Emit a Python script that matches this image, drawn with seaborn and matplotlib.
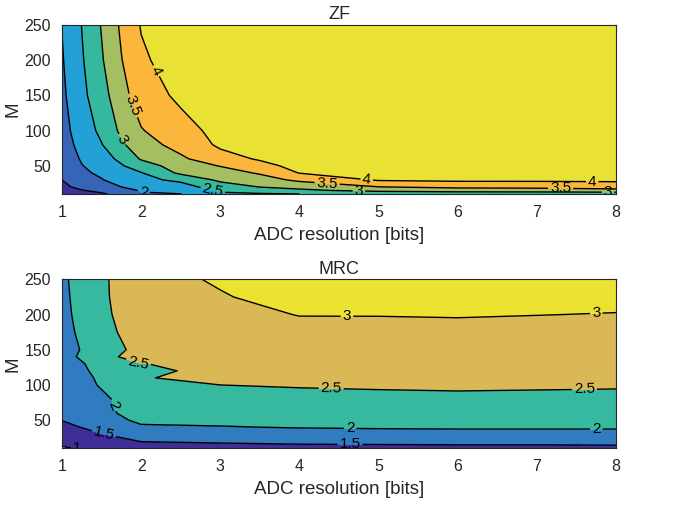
import matplotlib
matplotlib.use("Agg")
import numpy as np
import seaborn as sns
import matplotlib.pyplot as plt

# ZF: achievable rate over ADC resolution (columns) and number of antennas M (rows)
bits_zf = [1, 1.25, 1.5, 1.75, 2, 2.5, 3, 3.5, 4, 5, 6, 7, 8]
m_zf = [10, 15, 20, 30, 40, 50, 60, 80, 100, 150, 200, 250]
zf_rate = [  # one list per entry of bits_zf, values along m_zf
    [1.25, 1.35, 1.42, 1.50, 1.56, 1.62, 1.67, 1.75, 1.81, 1.90, 1.96, 2.01],
    [1.35, 1.48, 1.60, 1.77, 1.90, 1.98, 2.05, 2.17, 2.26, 2.38, 2.45, 2.51],
    [1.45, 1.60, 1.75, 1.97, 2.10, 2.22, 2.32, 2.48, 2.60, 2.80, 2.95, 3.03],
    [1.62, 1.80, 2.00, 2.22, 2.36, 2.46, 2.60, 2.92, 3.10, 3.33, 3.48, 3.58],
    [1.95, 2.04, 2.20, 2.38, 2.48, 2.75, 3.05, 3.30, 3.47, 3.75, 3.92, 4.03],
    [1.99, 2.20, 2.30, 2.60, 3.10, 3.25, 3.42, 3.67, 3.82, 4.10, 4.25, 4.35],
    [2.45, 2.55, 2.75, 3.10, 3.30, 3.52, 3.82, 4.08, 4.15, 4.30, 4.42, 4.50],
    [2.45, 2.75, 3.01, 3.30, 3.55, 3.85, 4.05, 4.20, 4.28, 4.40, 4.50, 4.55],
    [2.50, 2.90, 3.15, 3.60, 4.02, 4.15, 4.25, 4.35, 4.40, 4.50, 4.55, 4.60],
    [2.55, 3.15, 3.49, 4.05, 4.20, 4.30, 4.38, 4.45, 4.50, 4.55, 4.60, 4.62],
    [2.60, 3.25, 3.60, 4.10, 4.25, 4.33, 4.40, 4.48, 4.52, 4.57, 4.61, 4.63],
    [2.60, 3.28, 3.62, 4.10, 4.26, 4.34, 4.41, 4.49, 4.53, 4.58, 4.62, 4.64],
    [2.62, 3.38, 3.65, 4.12, 4.27, 4.35, 4.42, 4.50, 4.54, 4.59, 4.63, 4.65],
]
zf_levels = [1.5, 2, 2.5, 3, 3.5, 4]

# MRC
bits_mrc = [1, 2, 3, 4, 5, 6, 7, 8]
m_mrc = [10, 15, 20, 30, 40, 50, 60, 80, 100, 110, 120, 130, 140, 150, 175, 200, 225, 250]
mrc_rate = [
    [0.93, 1.08, 1.14, 1.25, 1.37, 1.51, 1.55, 1.62, 1.70, 1.68, 1.77, 1.80, 1.83, 1.81, 1.85, 1.88, 1.90, 1.92],
    [1.30, 1.42, 1.51, 1.72, 1.94, 2.09, 2.20, 2.23, 2.38, 2.48, 2.45, 2.49, 2.77, 2.66, 2.78, 2.86, 2.90, 2.90],
    [1.35, 1.45, 1.55, 1.78, 1.98, 2.10, 2.18, 2.33, 2.50, 2.59, 2.56, 2.60, 2.63, 2.68, 2.80, 2.90, 2.98, 3.03],
    [1.38, 1.48, 1.60, 1.83, 2.02, 2.14, 2.22, 2.38, 2.53, 2.60, 2.66, 2.70, 2.74, 2.78, 2.90, 3.01, 3.10, 3.18],
    [1.40, 1.49, 1.61, 1.85, 2.04, 2.16, 2.24, 2.40, 2.55, 2.62, 2.68, 2.71, 2.75, 2.79, 2.91, 3.01, 3.10, 3.19],
    [1.41, 1.50, 1.62, 1.86, 2.05, 2.17, 2.25, 2.42, 2.56, 2.63, 2.69, 2.72, 2.76, 2.80, 2.91, 3.02, 3.10, 3.20],
    [1.41, 1.50, 1.62, 1.86, 2.05, 2.17, 2.24, 2.41, 2.55, 2.62, 2.68, 2.71, 2.75, 2.79, 2.90, 3.005, 3.10, 3.19],
    [1.42, 1.51, 1.63, 1.86, 2.05, 2.17, 2.24, 2.40, 2.54, 2.61, 2.67, 2.70, 2.74, 2.78, 2.89, 2.99, 3.08, 3.17],
]
mrc_levels = [1, 1.5, 2, 2.5, 3]

zf_colors = ["#3e2f9c", "#3564b8", "#23a0d6", "#36b89e", "#a5be62", "#fbb63c", "#e9e133"]
mrc_colors = ["#ffffff", "#3f2d98", "#317bc1", "#37b9a0", "#dbb856", "#ebe330"]

sns.set_style("ticks")
plt.rcParams["font.family"] = ["Liberation Sans", "DejaVu Sans"]


def draw(ax, bits, m, rate, levels, colors, title, label_pos):
    X, Y = np.meshgrid(bits, m)
    Z = np.array(rate).T
    ax.contourf(X, Y, Z, levels=[0] + levels + [6], colors=colors)
    cs = ax.contour(X, Y, Z, levels=levels, colors="k", linewidths=1.0)
    ax.clabel(cs, fmt="%g", fontsize=11, inline=True, inline_spacing=2, manual=label_pos)
    ax.set_xlim(1, 8)
    ax.set_ylim(10, 250)
    ax.set_xticks(range(1, 9))
    ax.set_yticks([50, 100, 150, 200, 250])
    ax.tick_params(direction="in", top=True, right=True, length=4, width=0.8,
                   labelsize=11.5, color="#262626", labelcolor="#262626", pad=8)
    for s in ax.spines.values():
        s.set_color("#262626")
        s.set_linewidth(0.8)
    ax.set_title(title, fontsize=13, pad=4, color="#262626")
    ax.set_xlabel("ADC resolution [bits]", fontsize=13.5, color="#262626", labelpad=5)
    ax.set_ylabel("M", fontsize=13.5, color="#262626", labelpad=2)


fig, axes = plt.subplots(2, 1, figsize=(6.85, 5.08), dpi=100)
fig.subplots_adjust(left=0.0905, right=0.8993, top=0.9508, bottom=0.1175, hspace=0.505)

draw(axes[0], bits_zf, m_zf, zf_rate, zf_levels, zf_colors, "ZF",
     [(2.13, 181), (1.86, 134), (1.75, 87), (2.03, 12), (2.9, 12),
      (4.85, 31), (4.35, 25), (4.75, 12), (7.7, 28), (7.3, 17), (7.9, 12)])
draw(axes[1], bits_mrc, m_mrc, mrc_rate, mrc_levels, mrc_colors, "MRC",
     [(4.6, 197), (7.75, 199), (1.95, 126), (4.4, 91), (7.6, 92),
      (1.61, 69), (4.64, 37), (7.75, 37), (1.52, 27), (4.64, 15), (1.35, 10)])

fig.savefig("out.png", dpi=100)
